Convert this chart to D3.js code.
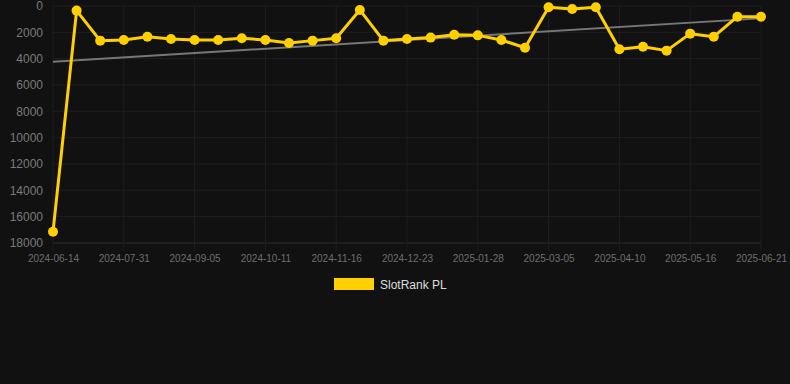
<!DOCTYPE html>
<html><head><meta charset="utf-8">
<script src="https://cdn.jsdelivr.net/npm/d3@7"></script>
<style>
html,body{margin:0;padding:0;background:#111111;}
svg{display:block;font-family:"Liberation Sans",Arial,sans-serif;}
</style></head>
<body>
<svg id="c" width="790" height="384"></svg>
<script>
const dates = ["2024-06-14","2024-07-07","2024-07-19","2024-07-31","2024-08-12","2024-08-24","2024-09-05","2024-09-17","2024-09-29","2024-10-11","2024-10-23","2024-11-04","2024-11-16","2024-11-28","2024-12-11","2024-12-23","2025-01-04","2025-01-16","2025-01-28","2025-02-09","2025-02-21","2025-03-05","2025-03-17","2025-03-29","2025-04-10","2025-04-22","2025-05-04","2025-05-16","2025-05-28","2025-06-09","2025-06-21"];
const ranks = [17150,350,2630,2580,2330,2500,2580,2580,2450,2580,2810,2630,2450,300,2630,2500,2400,2180,2230,2580,3170,100,230,100,3290,3090,3390,2100,2330,810,810];
const trend = [4230,940];
const yTicks = [0,2000,4000,6000,8000,10000,12000,14000,16000,18000];
const xTickLabels = ["2024-06-14","2024-07-31","2024-09-05","2024-10-11","2024-11-16","2024-12-23","2025-01-28","2025-03-05","2025-04-10","2025-05-16","2025-06-21"];
const seriesName = "SlotRank PL";

const svg = d3.select("#c");
const L = 53, R = 761, T = 6, B = 243;
const x = d3.scalePoint().domain(dates).range([L, R]);
const y = d3.scaleLinear().domain([0, 18000]).range([T, B]);

// grid
const g = svg.append("g");
g.selectAll("line.h").data(yTicks).enter().append("line")
  .attr("x1", L).attr("x2", R).attr("y1", d => y(d)).attr("y2", d => y(d))
  .attr("stroke", d => d === 18000 ? "#2e2e2e" : "#1f1f1f").attr("stroke-width", 1);
g.selectAll("line.v").data(xTickLabels).enter().append("line")
  .attr("x1", d => x(d)).attr("x2", d => x(d)).attr("y1", T).attr("y2", B + 8)
  .attr("stroke", "#1f1f1f").attr("stroke-width", 1);

// y axis labels
const yAxis = d3.axisLeft(y).tickValues(yTicks).tickSize(0).tickPadding(10).tickFormat(d3.format("d"));
const ya = svg.append("g").attr("transform", `translate(${L},0)`).call(yAxis);
ya.select(".domain").remove();
ya.selectAll("text").attr("fill", "#7a7a7a").style("font-size", "12px").style("font-family", "Liberation Sans, Arial, sans-serif");

// x axis labels
const xAxis = d3.axisBottom(x).tickValues(xTickLabels).tickSize(0).tickPadding(12);
const xa = svg.append("g").attr("transform", `translate(0,${B})`).call(xAxis);
xa.select(".domain").remove();
xa.selectAll("text").attr("fill", "#6e6e6e").style("font-size", "10px").style("font-family", "Liberation Sans, Arial, sans-serif");

// trend line
svg.append("line")
  .attr("x1", x(dates[0])).attr("x2", x(dates[dates.length - 1]))
  .attr("y1", y(trend[0])).attr("y2", y(trend[1]))
  .attr("stroke", "#777777").attr("stroke-width", 2);

// series line
const line = d3.line().x((d, i) => x(dates[i])).y(d => y(d));
svg.append("path").datum(ranks).attr("d", line)
  .attr("fill", "none").attr("stroke", "#FFD000").attr("stroke-width", 3).attr("stroke-linejoin", "round");
svg.selectAll("circle.p").data(ranks).enter().append("circle")
  .attr("cx", (d, i) => x(dates[i])).attr("cy", d => y(d)).attr("r", 5)
  .attr("fill", "#FFD000");

// legend
svg.append("rect").attr("x", 334).attr("y", 278).attr("width", 40).attr("height", 12).attr("fill", "#FFD000");
svg.append("text").attr("x", 380).attr("y", 289).text(seriesName)
  .attr("fill", "#dddddd").style("font-size", "12px");
</script>
</body></html>
